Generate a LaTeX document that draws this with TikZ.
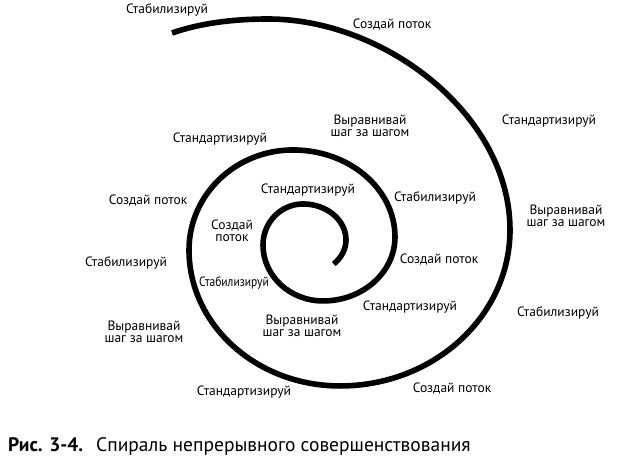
\documentclass[tikz,border=0pt]{standalone}
\usepackage{fontspec}
\setmainfont{PT Sans}
\begin{document}
\begin{tikzpicture}[x=1pt,y=1pt,
  spiral/.style={line width=5.6pt,black},
  lbl/.style={inner sep=0pt,align=center,font=\fontsize{13.5}{12}\selectfont},
  captext/.style={inner sep=0pt,anchor=base west,font=\fontsize{19.5}{22}\selectfont}]
\fill[white] (0,0) rectangle (625,471);
\useasboundingbox (0,0) rectangle (625,471);
% spiral
\draw[spiral] (333.7,207)
  arc[start angle=-45,end angle=0,x radius=42,y radius=34]
  arc[start angle=0,end angle=90,x radius=43,y radius=36]
  arc[start angle=90,end angle=180,x radius=40,y radius=41]
  arc[start angle=180,end angle=270,x radius=60,y radius=56]
  arc[start angle=270,end angle=360,x radius=72,y radius=64]
  arc[start angle=0,end angle=90,x radius=102,y radius=87]
  arc[start angle=90,end angle=180,x radius=104,y radius=100]
  arc[start angle=180,end angle=270,x radius=151,y radius=136]
  arc[start angle=270,end angle=360,x radius=170,y radius=156]
  .. controls (510,356) and (385,452) .. (268,452)
  .. controls (230,452) and (198,447) .. (172,438);
% labels
\node[lbl] (l1) at (167,461) {Стабилизируй};
\node[lbl] (l2) at (392,446) {Создай поток};
\node[lbl] (l3) at (370,345) {Выравнивай\\шаг за шагом};
\node[lbl] (l4) at (549,350) {Стандартизируй};
\node[lbl] (l5) at (220,332) {Стандартизируй};
\node[lbl] (l6) at (148,270) {Создай поток};
\node[lbl] (l7) at (308,281) {Стандартизируй};
\node[lbl] (l8) at (435,273) {Стабилизируй};
\node[lbl] (l9) at (566,255) {Выравнивай\\шаг за шагом};
\node[lbl] (l10) at (232,240) {Создай\\поток};
\node[lbl] (l11) at (439,211) {Создай поток};
\node[lbl] (l12) at (126,208) {Стабилизируй};
\node[lbl,xscale=0.85] (l13) at (234,188) {Стабилизируй};
\node[lbl] (l14) at (410,164) {Стандартизируй};
\node[lbl] (l15) at (558,158) {Стабилизируй};
\node[lbl] (l16) at (144,139) {Выравнивай\\шаг за шагом};
\node[lbl] (l17) at (302,145) {Выравнивай\\шаг за шагом};
\node[lbl] (l18) at (244,79) {Стандартизируй};
\node[lbl] (l19) at (452,82) {Создай поток};
% caption
\node[captext] (c1) at (8,19) {\bfseries Рис. 3-4.};
\node[captext] (c2) at (96,19) {Спираль непрерывного совершенствования};
\end{tikzpicture}
\end{document}
